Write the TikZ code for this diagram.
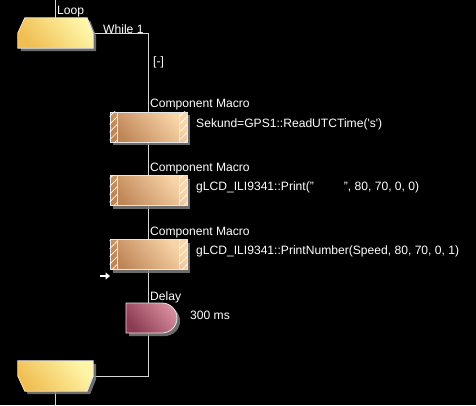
\documentclass[tikz,border=0pt]{standalone}
\usepackage{fontspec}
\setmainfont{Liberation Sans}
\usetikzlibrary{calc,patterns.meta,shadows,arrows.meta}

\definecolor{loopdark}{HTML}{F0BE52}
\definecolor{looplight}{HTML}{FFF6A8}
\definecolor{macrodark}{HTML}{BF8556}
\definecolor{macrolight}{HTML}{F9D6AA}
\definecolor{delaydark}{HTML}{8A3A52}
\definecolor{delaylight}{HTML}{D88C9C}
\definecolor{edgegray}{HTML}{E6E6E6}
\definecolor{wiregray}{HTML}{D8D8D8}

\pgfdeclarelayer{back}
\pgfdeclarelayer{wires}
\pgfsetlayers{back,wires,main}

\tikzset{
    wire/.style={draw=wiregray, line width=0.9pt},
    caption/.style={anchor=west, text=white, inner sep=0pt, font=\fontsize{12.1}{14}\selectfont},
    boxshadow/.style={drop shadow={shadow xshift=3pt, shadow yshift=-3pt, fill=gray, opacity=0.85}},
    loopbase/.style={minimum width=75pt, minimum height=30pt, inner sep=0pt},
    loopshape/.style={draw=edgegray, line width=0.8pt, bottom color=loopdark, top color=looplight, shading angle=-50, boxshadow},
    macrobox/.style={minimum width=77pt, minimum height=30pt, inner sep=0pt, draw=edgegray, line width=0.8pt,
        bottom color=macrodark, top color=macrolight, shading angle=-50, boxshadow},
    hatch/.style={pattern={Lines[angle=45, distance=5.5pt, line width=0.6pt]}, pattern color=white!85},
    delayshape/.style={draw=edgegray, line width=0.8pt, bottom color=delaydark, top color=delaylight, shading angle=-50, boxshadow}
}

\begin{document}
\begin{tikzpicture}[x=1pt, y=-1pt]
    % Background
    \begin{pgfonlayer}{back}
        \fill[black] (0,0) rectangle (476,405);
    \end{pgfonlayer}
    \useasboundingbox (0,0) rectangle (476,405);

    % Loop start
    \coordinate (loopin) at (55.5,0);
    \node[loopbase] (loopstart) at (55.5,33) {};
    \shade[loopshape] ($(loopstart.north west)+(7,0)$) -- ($(loopstart.north east)+(-6,0)$) -- (loopstart.east)
        -- (loopstart.south east) -- (loopstart.south west) -- (loopstart.west) -- cycle;
    \node[caption] (looplabel) at (57,12) {Loop};
    \node[caption] (whilelabel) at (103,29) {While 1};
    \node[caption] (foldlabel) at (153,62) {[-]};

    % First component macro
    \node[macrobox] (macroA) at (148.5,127) {};
    \node[caption] (macroAtitle) at (150,105) {Component Macro};
    \node[caption] (macroAtext) at (196,124) {Sekund=GPS1::ReadUTCTime(\textquotesingle s\textquotesingle)};

    % Second component macro
    \node[macrobox] (macroB) at (148.5,190.5) {};
    \node[caption] (macroBtitle) at (150,169) {Component Macro};
    \node[caption] (macroBtext) at (196,187) {gLCD\_ILI9341::Print("\hspace{30pt}", 80, 70, 0, 0)};

    % Third component macro
    \node[macrobox] (macroC) at (148.5,254.5) {};
    \node[caption] (macroCtitle) at (150,233) {Component Macro};
    \node[caption] (macroCtext) at (196,251) {gLCD\_ILI9341::PrintNumber(Speed, 80, 70, 0, 1)};

    % Hatched side strips
    \fill[hatch] (macroA.north west) rectangle ($(macroA.south west)+(8,0)$);
    \fill[hatch] ($(macroA.north east)+(-8,0)$) rectangle (macroA.south east);
    \fill[hatch] (macroB.north west) rectangle ($(macroB.south west)+(8,0)$);
    \fill[hatch] ($(macroB.north east)+(-8,0)$) rectangle (macroB.south east);
    \fill[hatch] (macroC.north west) rectangle ($(macroC.south west)+(8,0)$);
    \fill[hatch] ($(macroC.north east)+(-8,0)$) rectangle (macroC.south east);
    \draw[edgegray, line width=0.8pt] ($(macroA.north west)+(8,0)$) -- ($(macroA.south west)+(8,0)$);
    \draw[edgegray, line width=0.8pt] ($(macroA.north east)+(-8,0)$) -- ($(macroA.south east)+(-8,0)$);
    \draw[edgegray, line width=0.8pt] ($(macroB.north west)+(8,0)$) -- ($(macroB.south west)+(8,0)$);
    \draw[edgegray, line width=0.8pt] ($(macroB.north east)+(-8,0)$) -- ($(macroB.south east)+(-8,0)$);
    \draw[edgegray, line width=0.8pt] ($(macroC.north west)+(8,0)$) -- ($(macroC.south west)+(8,0)$);
    \draw[edgegray, line width=0.8pt] ($(macroC.north east)+(-8,0)$) -- ($(macroC.south east)+(-8,0)$);

    % Cursor arrow
    \coordinate (cursor) at (100,276);
    \draw[white, line width=2pt, -{Triangle[length=4.5pt, width=7pt]}] (cursor) -- ++(10,0);

    % Delay
    \coordinate (delay) at (148.5,318);
    \shade[delayshape] ($(delay)+(-22.5,-15)$) -- ($(delay)+(13.5,-15)$)
        arc[start angle=90, end angle=-90, radius=15pt] -- ($(delay)+(-22.5,15)$) -- cycle;
    \node[caption] (delaytitle) at (150,297) {Delay};
    \node[caption] (delaytext) at (190,315) {300 ms};

    % Loop end
    \coordinate (loopout) at (55.5,405);
    \node[loopbase] (loopend) at (55.5,376) {};
    \shade[loopshape] (loopend.north west) -- (loopend.north east) -- (loopend.east)
        -- ($(loopend.south east)+(-6,0)$) -- ($(loopend.south west)+(7,0)$) -- (loopend.west) -- cycle;

    % Connectors
    \begin{pgfonlayer}{wires}
        \draw[wire] (loopin) -- (loopstart.north);
        \draw[wire] (loopstart.east) -| (macroA.north);
        \draw[wire] (macroA.south) -- (macroB.north);
        \draw[wire] (macroB.south) -- (macroC.north);
        \draw[wire] (macroC.south) -- (delay);
        \draw[wire] (delay) |- (loopend.east);
        \draw[wire] (loopend.south) -- (loopout);
    \end{pgfonlayer}
\end{tikzpicture}
\end{document}
